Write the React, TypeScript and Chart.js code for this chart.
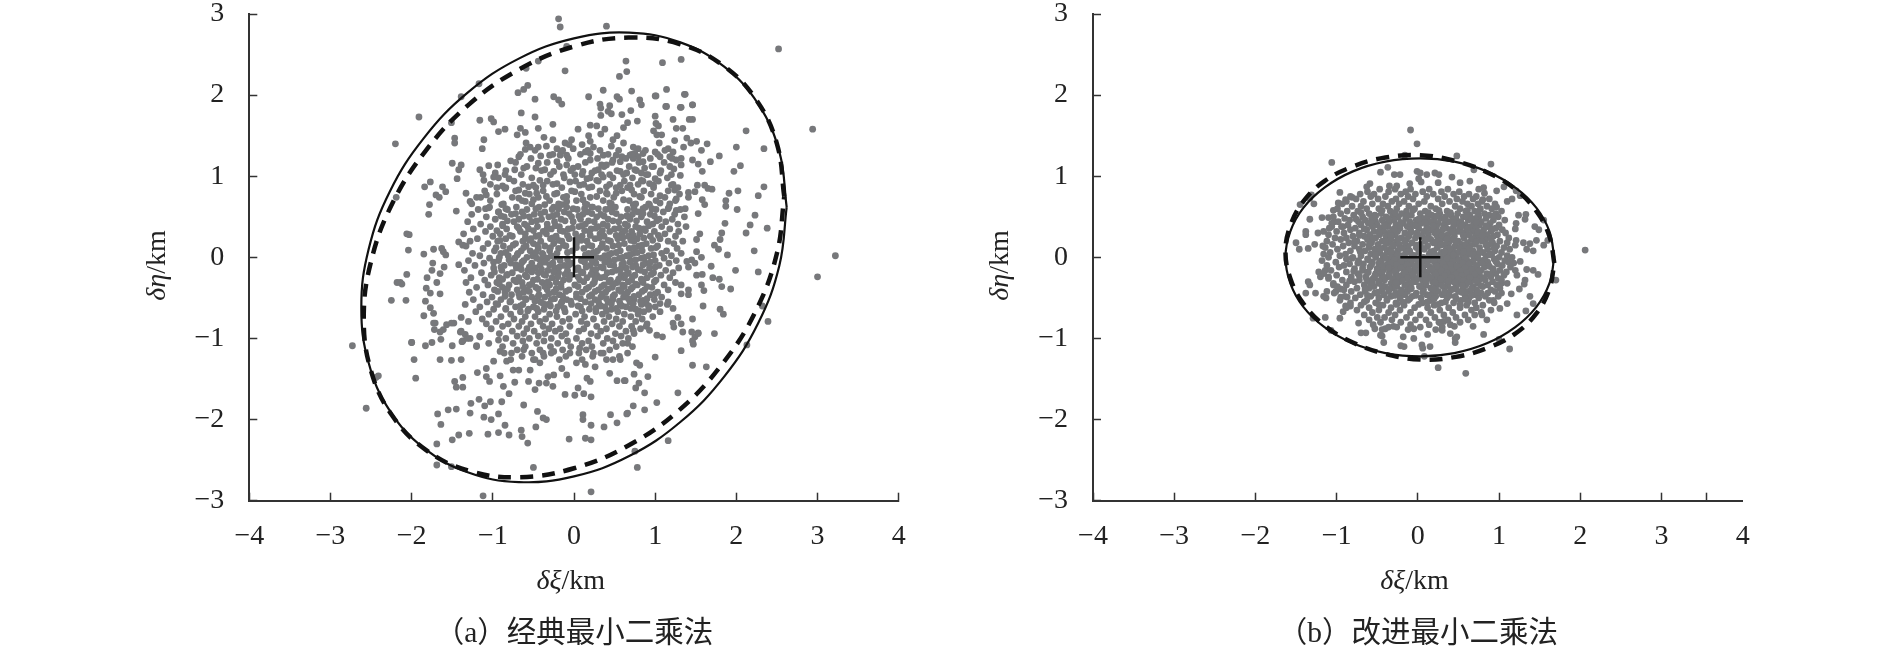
import React, { useEffect, useRef } from "react";
import { Chart, registerables } from "chart.js";

Chart.register(...registerables);

const xTickValues = [-4, -3, -2, -1, 0, 1, 2, 3, 4];
const extraTickB = 3.55;

// All values below are hundredths of a km.
const crossA = [0, 0];
const crossB = [3, 0];

const solidA = [262,62,253,130,227,189,185,235,131,265,68,277,0,270,-68,245,-131,203,-185,147,-227,81,-253,10,-262,-62,-253,-130,-227,-189,-185,-235,-131,-265,-68,-277,0,-270,68,-245,131,-203,185,-147,227,-81,253,-10,262,62];
const dashA = [259,75,250,140,224,195,183,237,130,263,67,271,0,260,-67,232,-130,188,-183,131,-224,66,-250,-5,-259,-75,-250,-140,-224,-195,-183,-237,-130,-263,-67,-271,0,-260,67,-232,130,-188,183,-131,224,-66,250,5,259,75];
const solidB = [168,0,162,32,146,61,120,86,85,106,45,118,3,122,-40,118,-80,106,-115,86,-141,61,-157,32,-163,0,-157,-32,-141,-61,-115,-86,-80,-106,-40,-118,3,-122,45,-118,85,-106,120,-86,146,-61,162,-32,168,0];
const dashB = [168,-7,162,26,146,57,120,84,85,105,45,119,3,126,-40,123,-80,112,-115,94,-141,69,-157,39,-163,7,-157,-26,-141,-57,-115,-84,-80,-105,-40,-119,3,-126,45,-123,85,-112,120,-94,146,-69,162,-39,168,-7];

const scatterA = [-19,294,-17,284,40,285,-9,260,-11,230,-44,242,-59,233,-117,214,-139,198,-191,173,-220,140,-151,166,64,242,65,229,56,223,36,206,18,198,-25,198,-19,194,-15,189,-48,195,-57,212,-62,207,-69,203,
-116,169,-102,171,-99,167,-65,178,-48,173,32,189,33,184,44,187,42,180,46,177,33,175,59,176,70,181,53,198,56,195,81,194,83,188,100,199,113,186,131,185,146,188,136,201,100,174,122,170,146,170,78,168,101,165,66,166,61,160,104,162,126,159,134,159,212,156,
-26,164,-44,159,-66,159,-60,154,-70,151,-85,158,-93,155,-111,145,-113,134,-147,147,-147,141,5,158,20,163,28,162,38,158,33,152,18,150,53,150,48,145,46,137,61,141,98,156,102,151,108,151,105,141,124,144,139,147,144,141,151,143,164,140,135,136,157,132,179,125,146,120,153,115,168,118,158,106,200,136,234,134,205,113,197,106,123,109,131,101,202,82,191,79,187,70,187,63,201,59,227,76,234,87,223,52,152,89,161,89,165,85,170,84,149,81,141,80,141,74,120,89,124,83,158,71,161,65,153,54,126,72,106,76,98,89,
-150,116,-139,114,-142,108,-144,97,-184,87,-177,93,-162,87,-158,81,-170,77,-166,74,-178,65,-133,79,-128,69,-115,74,-108,77,-219,74,-179,53,-145,57,-109,60,-105,61,-93,56,-89,65,
-59,141,-60,133,-54,136,-44,136,-34,137,-37,148,-26,145,-11,141,-3,145,-6,139,-21,134,-16,130,-1,134,-30,126,-41,125,-17,126,-9,126,10,139,20,143,24,136,32,132,14,130,20,128,36,126,20,120,34,114,40,114,52,126,59,124,48,120,57,118,73,136,79,134,75,128,69,126,79,124,73,122,85,128,100,130,116,134,122,130,118,124,106,124,132,122,126,120,132,114,85,118,98,112,87,110,75,108,83,104,91,102,106,104,100,97,93,91,57,106,65,104,44,102,30,108,22,104,36,99,28,95,11,106,-1,110,-9,114,-21,118,-44,116,-68,124,-78,119,-94,114,-105,113,-116,108,-112,102,-97,104,-85,102,-80,97,-111,95,-99,99,-73,108,-62,110,-47,110,-36,108,-25,106,-13,102,1,102,16,97,-42,95,-50,89,-56,87,-38,89,-21,91,-5,93,7,89,22,87,40,87,57,89,69,89,83,95,-95,86,-88,88,-85,85,-68,83,-60,79,-46,79,-34,75,-21,79,-9,75,1,81,11,71,28,75,40,79,52,79,71,83,81,75,93,65,106,67,116,60,126,58,137,60,-68,73,-60,69,-50,71,-36,65,-25,62,-15,65,-9,69,-1,60,16,65,22,62,30,60,44,67,61,71,73,65,85,60,
-206,29,-203,28,-204,9,-185,4,-173,10,-163,11,-158,3,-161,7,-142,19,-137,15,-174,-7,-175,-16,-165,-20,-160,-12,-142,-9,-206,-21,-214,-31,-212,-33,-218,-31,-181,-25,-169,-31,-182,-38,-177,-44,-165,-45,-183,-54,-207,-53,-225,-53,-177,-62,-173,-69,-185,-72,-171,-81,-172,-89,-165,-92,-157,-83,-148,-81,-139,-74,-200,-105,-183,-109,-175,-105,-164,-101,-150,-109,-140,-92,-134,-95,-128,-100,-137,-103,-116,-97,-120,-109,-130,-79,
155,29,151,22,186,42,217,40,238,36,212,30,182,30,180,22,173,15,178,10,189,3,222,8,151,7,157,0,145,-3,139,-5,141,-12,149,-7,169,-11,199,-16,227,-18,151,-22,158,-21,171,-25,179,-27,182,-36,193,-39,132,-34,141,-40,132,-45,141,-46,157,-34,160,-41,159,-60,180,-64,184,-70,232,-60,239,-79,146,-76,128,-74,132,-82,122,-81,123,-86,134,-92,145,-92,153,-94,149,-98,173,-94,147,-107,102,-96,109,-98,213,-108,89,-85,93,-90,122,-63,106,-57,116,-55,85,-53,89,-57,
252,257,294,158,322,2,300,-24,163,-135,146,-133,132,-115,128,-167,116,-226,78,-259,75,-239,102,-179,87,-188,73,-183,66,-192,91,-147,87,-167,80,-155,76,-161,74,-144,62,-152,100,-123,81,-133,77,-130,146,-103,153,-93,66,-106,73,-90,
109,240,132,244,114,207,101,199,137,201,146,188,132,185,114,186,142,170,71,205,
-273,-109,-244,-148,-241,-146,-256,-186,-200,-105,-197,-126,-195,-149,-165,-126,-151,-127,-139,-126,-147,-153,-145,-160,-137,-148,-137,-160,-119,-142,-108,-137,-108,-147,-104,-153,-91,-146,-73,-154,-87,-159,-80,-168,-56,-153,-48,-163,-43,-155,-34,-155,-26,-159,-11,-169,1,-170,5,-161,12,-168,21,-172,20,-153,16,-149,44,-143,53,-152,63,-152,
-117,-175,-127,-180,-110,-183,-103,-178,-89,-178,-62,-182,-155,-188,-145,-187,-168,-193,-128,-192,-111,-197,-102,-200,-93,-193,-45,-190,-38,-198,-34,-200,11,-194,11,-200,45,-194,65,-193,-164,-206,-85,-207,-47,-209,21,-207,37,-209,53,-204,-150,-225,-142,-219,-129,-217,-106,-218,-93,-216,-80,-219,-65,-213,-64,-221,-57,-229,-6,-224,14,-223,21,-225,-169,-230,-169,-256,-151,-258,-50,-259,-112,-294,21,-289,
-173,-81,-161,-89,-151,-81,-139,-91,-132,-100,-138,-104,-116,-98,-120,-110,-105,-106,-91,-116,-93,-102,-99,-128,-83,-128,-75,-139,-68,-139,-77,-118,-62,-114,-50,-126,-54,-139,-42,-130,-32,-147,-25,-145,-38,-118,-25,-116,-15,-137,-9,-145,-5,-118,3,-130,7,-112,14,-132,26,-135,24,-118,36,-118,48,-126,57,-126];

// Dense middle of the cloud, one row per value of delta eta: [y, x, x, ...]
const coreARows = [
[132,-48,-14,17,55,88,112],
[127,-66,-26,8,42,71,103],
[122,-53,-7,29,64,94,121],
[117,-72,-33,14,47,80,111],
[112,-58,-18,5,37,68,96,118],
[107,-84,-40,-4,26,53,77,107],
[102,-65,-29,10,34,61,89,120],
[98,-93,-52,-12,20,48,72,115],
[94,-74,-33,2,30,62,85,104],
[90,-103,-63,-26,12,44,79,122],
[86,-84,-47,-15,18,52,66,98,128],
[82,-110,-72,-38,-3,32,59,86,116],
[78,-95,-55,-24,9,41,74,95,130],
[74,-120,-76,-44,-13,20,49,83,112],
[70,-103,-64,-30,3,36,68,101,125],
[66,-126,-87,-52,-19,14,46,76,92,118],
[62,-104,-71,-43,-9,23,51,88,117],
[59,-118,-82,-58,-27,4,39,66,101,131],
[56,-93,-64,-36,-12,17,47,79,110],
[53,-126,-77,-49,-21,11,33,72,94,124],
[50,-108,-86,-55,-31,-3,28,58,83,136],
[47,-97,-68,-40,-16,8,42,69,105,121],
[44,-131,-74,-52,-24,-1,25,55,90,113],
[41,-115,-88,-61,-33,14,36,63,97,128],
[38,-103,-70,-45,-18,6,30,76,108,138],
[35,-124,-83,-56,-28,-7,21,50,86,118],
[32,-109,-66,-38,-13,19,44,71,99,129],
[29,-136,-91,-60,-34,2,32,59,81,112],
[26,-100,-76,-47,-22,10,37,67,94,125],
[23,-119,-84,-53,-29,-6,26,54,78,106],
[20,-128,-94,-63,-41,-15,16,45,74,116,134],
[17,-106,-72,-50,-25,3,35,62,89,123],
[14,-133,-87,-59,-36,-10,22,48,80,103],
[11,-112,-79,-44,-19,12,40,68,95,127],
[8,-98,-65,-54,-30,-2,29,57,84,114],
[5,-125,-90,-69,-39,-21,18,46,73,108,132],
[2,-116,-81,-51,-28,24,38,65,92,120],
[-1,-104,-73,-46,-33,15,34,56,83,111],
[-4,-130,-93,-62,-37,-17,9,43,70,100,126],
[-7,-111,-78,-52,-26,-3,27,61,88,117],
[-10,-122,-86,-66,-42,-12,20,49,76,105],
[-13,-99,-71,-48,-24,5,36,64,93,129],
[-16,-135,-89,-57,-32,-8,23,52,82,113],
[-19,-114,-76,-44,-19,11,41,67,98,122],
[-22,-102,-83,-60,-35,-4,28,58,75,107],
[-25,-127,-92,-68,-27,16,33,62,90,118],
[-28,-110,-74,-50,-13,7,45,71,101],
[-31,-133,-95,-64,-39,-22,25,53,85,125],
[-34,-106,-80,-55,-30,1,37,60,78,111],
[-37,-120,-88,-47,-16,18,47,72,96],
[-40,-98,-70,-58,-33,-6,30,55,87,116],
[-43,-129,-85,-62,-25,10,39,66,103],
[-46,-112,-77,-43,-18,22,50,80,94],
[-49,-101,-67,-52,-36,3,33,61,108],
[-52,-124,-90,-59,-28,-9,26,48,74,99],
[-55,-107,-79,-41,-15,14,42,69,88],
[-58,-134,-94,-63,-32,-3,31,57,83,115],
[-61,-116,-72,-50,-20,8,38,64,100],
[-64,-99,-84,-56,-37,19,46,76,92],
[-67,-121,-66,-44,-11,27,54,86,106],
[-70,-105,-78,-30,2,35,62,79],
[-73,-90,-60,-48,-21,13,43,70,97],
[-76,-113,-74,-35,-6,24,52,84],
[-79,-96,-64,-42,-14,9,37,60,76],
[-82,-108,-81,-53,-27,16,47,90],
[-85,-88,-68,-38,-5,28,56,71],
[-88,-102,-58,-31,-17,12,40,82],
[-91,-76,-49,-23,6,33,64],
[-94,-92,-62,-36,-10,21,51,74],
[-97,-70,-44,-15,29,58],
[-100,-84,-55,-28,3,41,67],
[-103,-63,-37,-8,18,48],
[-106,-75,-46,-20,10,36,60],
[-110,-88,-60,-29,-4,22,52,72],
[-114,-70,-42,-14,15,44],
[-118,-86,-52,-28,6,33,66],
[-122,-64,-37,-10,23,56],
[-126,-78,-48,-18,10,40,],
[60,-84,-47,-19,13,44,74,96],
[54,-72,-41,-6,22,52,85],
[51,-90,-62,-26,6,37,65,99],
[45,-82,-46,-11,18,48,77,102],
[39,-88,-58,-23,10,41,66,92],
[36,-68,-33,-2,27,56,80],
[33,-95,-50,-17,13,35,63,88],
[27,-79,-43,-8,20,52,73,104],
[24,-60,-26,4,31,60,86],
[21,-91,-55,-19,9,42,70,97],
[15,-75,-45,-13,18,55,84],
[12,-96,-62,-29,3,33,74,101],
[6,-84,-47,-8,24,52,78],
[3,-70,-38,14,43,69,98],
[0,-92,-58,-24,28,60,87],
[-3,-80,-42,-8,22,50,76],
[-6,-99,-64,-36,13,38,69,94],
[-9,-72,-30,-6,44,59,85],
[-12,-90,-55,-18,15,33,72,100],
[-15,-65,-40,3,27,57,79],
[-18,-98,-52,-25,9,47,87],
[-21,-82,-37,-11,21,64,95],
[-24,-58,-20,5,38,72],
[-27,-88,-45,-6,26,55,83],
[-30,-71,-32,12,43,67,99],
[-33,-92,-52,-16,23,49,76],
[-36,-63,-36,5,34,62,90],
[-39,-82,-44,-22,15,42,70],
[-42,-94,-55,-10,26,58,84],
[-45,-68,-31,3,35,64,100],
[-48,-85,-44,-14,19,48,74],
[-51,-60,-24,8,40,67,90],
[-54,-78,-48,-4,30,56,82],
[-57,-96,-38,-16,21,46,73],
[-60,-66,-29,5,33,59,92],
[-63,-84,-46,-12,27,52,70],
[-66,-57,-22,10,40,80],
];

const scatterB = [-9,157,-1,140,-106,117,-16,126,48,125,90,115,69,108,-37,111,-46,105,-29,102,-22,102,-1,106,3,104,11,102,21,104,26,102,42,99,52,92,64,94,25,92,206,9,170,-28,155,46,160,21,155,15,146,21,138,17,130,18,142,8,134,10,121,21,120,15,144,38,149,34,133,53,132,47,124,52,121,42,120,35,126,76,121,82,106,87,97,82,81,86,75,84,82,79,80,71,116,72,110,69,97,62,126,-5,118,-7,134,-15,142,-16,148,-21,120,-16,122,-22,132,-28,131,-33,125,-39,115,-45,138,-48,142,-57,103,-44,103,-32,110,-57,122,-71,133,-66,101,-63,93,-53,85,-77,79,-71,81,-95,100,-101,113,-113,59,-143,25,-136,15,-110,8,-122,5,-108,6,-112,-5,-100,-18,-98,-21,-109,-17,-110,12,-95,40,-94,46,-100,48,-98,46,-105,68,-85,45,-85,30,-90,-42,-105,-44,-97,-46,-96,-53,-88,-64,-93,-70,-93,-107,-90,-129,-75,-114,-74,-96,-75,-92,-67,-89,-60,-83,-60,-73,-81,-40,-88,-30,-85,-5,-88,28,-81,32,-79,
-145,65,-128,66,-133,73,-131,77,-96,80,-89,71,-81,74,-98,67,-104,58,-133,47,-118,49,-110,49,-103,44,-92,38,-106,38,-138,32,-138,28,-123,30,-116,32,-150,18,-146,10,-135,11,-127,16,-117,14,-59,91,-63,87,-35,88,-26,88,-10,91,1,97,4,93,
-122,-18,-120,-24,-135,-30,-133,-34,-138,-44,-126,-44,-116,-48,-113,-50,-112,-42,-101,-42,-95,-39,-95,-49,-87,-49,-104,-34,-110,-24,-114,-16];

const coreBRows = [
[84,-47,-28,-9,14,37],
[81,-62,-36,-15,6,29,51],
[78,-71,-54,-21,-3,19,44,63],
[75,-83,-58,-40,-12,11,33,57,72],
[72,-76,-49,-27,-6,25,48,68,88],
[69,-88,-67,-32,-17,8,39,55,79],
[66,-93,-56,-43,-23,1,30,61,74,95],
[63,-81,-70,-37,-11,16,46,66,85],
[60,-99,-63,-48,-26,-4,22,52,77,91],
[57,-87,-74,-34,-14,9,36,59,70,103],
[54,-95,-60,-45,-20,3,27,49,82,96],
[52,-79,-53,-31,-8,17,41,64,88],
[50,-104,-68,-39,-24,12,34,56,75,99],
[48,-90,-57,-15,6,28,47,71,84],
[46,-84,-65,-44,-29,-2,20,43,62,93,107],
[44,-98,-73,-52,-35,-10,15,38,53,78],
[42,-106,-61,-41,-18,4,25,48,69,89],
[40,-86,-70,-50,-27,-6,32,58,76,100],
[38,-94,-56,-37,-13,11,23,44,65,86],
[36,-109,-77,-46,-22,1,35,52,72,96],
[34,-83,-63,-31,-9,18,40,60,81,104],
[32,-100,-54,-42,-25,7,29,49,68,90],
[30,-91,-72,-35,-16,-1,21,55,77,108],
[28,-110,-59,-47,-28,13,37,63,85,98],
[26,-80,-66,-39,-11,5,24,45,71,93],
[24,-102,-88,-52,-20,-3,31,57,74,112],
[22,-95,-62,-33,-14,16,42,66,83],
[20,-112,-75,-44,-26,9,27,50,79,101],
[18,-85,-57,-37,-7,19,38,61,92,110],
[16,-105,-68,-49,-23,3,33,54,70,88],
[14,-92,-78,-30,-12,12,46,64,97],
[12,-114,-60,-41,-18,-2,24,52,76,106],
[10,-99,-72,-53,-34,8,35,58,86,113],
[8,-83,-65,-25,-10,20,43,68,95],
[6,-108,-47,-38,-15,1,29,49,80,103],
[4,-116,-89,-58,-28,14,37,62,74,91],
[2,-96,-70,-43,-21,-5,23,55,84,110],
[0,-110,-80,-52,-33,7,31,47,69,100,116],
[-2,-88,-62,-24,-11,18,40,60,94],
[-4,-118,-73,-45,-16,3,26,51,77,107],
[-6,-101,-56,-36,-28,11,35,66,86,112],
[-8,-84,-67,-48,-8,22,44,58,98],
[-10,-112,-91,-40,-20,0,29,53,73,104],
[-12,-97,-59,-30,-13,15,38,64,82,114],
[-14,-78,-50,-25,5,24,47,70,92],
[-16,-107,-68,-43,-17,-4,33,56,78,101],
[-18,-88,-61,-35,9,20,42,62,109],
[-20,-116,-74,-52,-27,-10,26,50,85,96],
[-22,-100,-45,-19,2,31,67,76,106],
[-24,-82,-64,-37,-7,14,39,57,90],
[-26,-110,-55,-29,-14,23,48,71,99],
[-28,-93,-72,-41,6,34,60,83,103],
[-30,-78,-60,-23,-3,18,44,65,92],
[-32,-104,-48,-33,-11,28,52,74,110],
[-34,-88,-66,-16,10,37,59,86,97],
[-36,-99,-54,-40,-26,2,22,47,68,80],
[-38,-75,-60,-31,-8,16,33,56,101],
[-40,-91,-44,-20,7,41,72,90],
[-42,-82,-65,-36,-13,25,50,62,95],
[-44,-103,-53,-27,-2,18,37,78,86],
[-46,-71,-42,-16,11,30,58,70],
[-48,-90,-58,-33,-7,22,46,83,99],
[-50,-77,-48,-22,4,36,63,75],
[-53,-96,-63,-38,-12,15,53,88],
[-56,-83,-52,-27,6,29,44,70,94],
[-59,-70,-43,-17,20,60,80],
[-62,-88,-60,-33,-4,12,38,52,72],
[-65,-75,-48,-22,27,66,90],
[-68,-56,-36,-9,16,43,78],
[-71,-66,-28,3,32,58,70],
[-74,-50,-41,-14,21,47],
[-77,-60,-32,-3,10,37,62],
[-80,-46,-21,26,52],
[-83,-55,-9,14,40],
[-86,-36,-26,3,30],
[-89,-44,-12,22],
[58,-44,-6,26,61],
[55,-70,-28,13,40,74],
[51,-52,-14,23,60,93],
[47,-76,-36,1,33,66],
[43,-58,-21,9,44,72],
[39,-41,-3,19,54,84],
[35,-66,-29,12,31,61,92],
[31,-48,-8,24,43,74],
[27,-72,-33,1,30,56,79],
[23,-55,-24,11,36,68,90],
[19,-78,-40,-16,22,47,72],
[15,-60,-31,-1,28,59,84],
[11,-46,-22,6,40,63,94],
[7,-71,-33,-12,16,33,56,76],
[3,-52,-25,-7,21,44,68,88],
[-1,-81,-40,-15,5,36,58,74],
[-3,-61,-29,-2,14,28,50,82],
[-5,-47,-21,-9,20,43,68,96],
[-7,-74,-33,4,31,55,79],
[-9,-57,-26,-13,12,40,63],
[-11,-44,-4,23,48,72,88],
[-13,-68,-36,-21,6,34,58],
[-15,-50,-11,17,41,66,93],
[-17,-79,-28,1,29,52,75],
[-19,-62,-44,-16,12,36,60],
[-21,-35,-6,22,47,70,89],
[-23,-72,-53,-24,9,33,54],
[-25,-42,-13,16,41,64,82],
[-27,-63,-31,-1,28,50,76],
[-29,-84,-48,-19,10,38,56,72],
[-31,-56,-27,-7,21,46,62],
[-35,-44,-14,3,30,55,78],
[-39,-65,-35,-9,19,44,66],
[-43,-49,-21,6,33,54,74],
[-47,-62,-29,-3,15,39,66],
[-51,-38,-10,20,47,58],
[-55,-66,-19,12,34,62],
[-58,-48,-26,1,25,52],
];

const POINT_COLOR = "#77787b";
const LINE_COLOR = "#111111";
const AXIS_COLOR = "#333333";
const TEXT_COLOR = "#222222";
const SERIF = '"Liberation Serif", "Noto Sans CJK SC", serif';

type Pt = { x: number; y: number };
const fromPairs = (flat: number[]): Pt[] => {
  const out: Pt[] = [];
  for (let i = 0; i + 1 < flat.length; i += 2) out.push({ x: flat[i] / 100, y: flat[i + 1] / 100 });
  return out;
};
const fromRows = (rows: number[][]): Pt[] =>
  rows.flatMap(([y, ...xs]) => xs.map((x) => ({ x: x / 100, y: y / 100 })));

const formatTick = (v: number | string) =>
  Number.isInteger(Number(v)) ? String(v).replace("-", "\u2212") : "";

function drawRuns(
  ctx: CanvasRenderingContext2D,
  runs: { text: string; italic: boolean }[],
  cx: number,
  cy: number,
  size: number
) {
  const fontOf = (italic: boolean) => `${italic ? "italic " : ""}${size}px ${SERIF}`;
  let total = 0;
  for (const r of runs) {
    ctx.font = fontOf(r.italic);
    total += ctx.measureText(r.text).width;
  }
  let x = cx - total / 2;
  ctx.textAlign = "left";
  ctx.textBaseline = "middle";
  ctx.fillStyle = TEXT_COLOR;
  for (const r of runs) {
    ctx.font = fontOf(r.italic);
    ctx.fillText(r.text, x, cy);
    x += ctx.measureText(r.text).width;
  }
}

const axisTitles = {
  id: "axisTitles",
  afterDraw(chart: any) {
    const { ctx, scales } = chart;
    const { x, y } = scales;
    ctx.save();
    drawRuns(ctx, [{ text: "\u03b4\u03be", italic: true }, { text: "/km", italic: false }], x.getPixelForValue(-0.04), y.bottom + 81, 28);
    ctx.translate(y.left + 30, y.getPixelForValue(-0.1));
    ctx.rotate(-Math.PI / 2);
    drawRuns(ctx, [{ text: "\u03b4\u03b7", italic: true }, { text: "/km", italic: false }], 0, 0, 28);
    ctx.restore();
  },
};

type PanelProps = {
  left: number;
  yWidth: number;
  rightPad: number;
  caption: string;
  pairs: number[];
  rows: number[][];
  solid: number[];
  dash: number[];
  cross: number[];
  extraTick?: number;
  hideLastTick?: boolean;
};

function Panel(p: PanelProps) {
  const ref = useRef<HTMLCanvasElement>(null);
  useEffect(() => {
    const axisBase = (hideLast: boolean) => ({
      drawOnChartArea: false,
      tickLength: -8,
      tickWidth: 1.5,
      tickColor: (c: any) => (hideLast && c.tick && c.tick.value === 4 ? "rgba(0,0,0,0)" : AXIS_COLOR),
      color: AXIS_COLOR,
    });
    const tickFont = { family: SERIF, size: 28, lineHeight: 1 };
    const chart = new Chart(ref.current as HTMLCanvasElement, {
      type: "scatter",
      data: {
        datasets: [
          {
            data: fromPairs(p.cross),
            pointStyle: "cross",
            pointRadius: 20,
            pointBorderWidth: 2.5,
            pointBorderColor: LINE_COLOR,
            order: 0,
          },
          {
            data: fromPairs(p.solid),
            showLine: true,
            borderColor: LINE_COLOR,
            borderWidth: 2.2,
            tension: 0.4,
            pointRadius: 0,
            order: 1,
          },
          {
            data: fromPairs(p.dash),
            showLine: true,
            borderColor: LINE_COLOR,
            borderWidth: 4.5,
            borderDash: [13, 9],
            tension: 0.4,
            pointRadius: 0,
            order: 2,
          },
          {
            data: [...fromPairs(p.pairs), ...fromRows(p.rows)],
            pointRadius: 3.4,
            pointBorderWidth: 0,
            pointBackgroundColor: POINT_COLOR,
            order: 3,
          },
        ],
      } as any,
      options: {
        responsive: false,
        animation: false,
        events: [],
        layout: { autoPadding: false, padding: { top: 14, right: p.rightPad, left: 0, bottom: 0 } },
        plugins: {
          legend: { display: false },
          tooltip: { enabled: false },
          title: {
            display: true,
            fullSize: false,
            position: "bottom",
            text: p.caption,
            color: TEXT_COLOR,
            padding: 0,
            font: { family: SERIF, size: 29.5, weight: "normal" },
          },
        },
        scales: {
          x: {
            type: "linear",
            min: -4,
            max: 4,
            grid: axisBase(!!p.hideLastTick),
            border: { color: AXIS_COLOR, width: 2 },
            ticks: {
              stepSize: 1,
              autoSkip: false,
              maxRotation: 0,
              padding: 29.5,
              color: TEXT_COLOR,
              font: tickFont,
              callback: formatTick,
            },
            afterBuildTicks(s: any) {
              s.ticks = xTickValues.map((value) => ({ value }));
              if (p.extraTick !== undefined) s.ticks.splice(s.ticks.length - 1, 0, { value: p.extraTick });
            },
            afterFit(s: any) {
              s.height = 115.9;
              s.paddingLeft = 0;
              s.paddingRight = 0;
            },
          },
          y: {
            type: "linear",
            min: -3,
            max: 3,
            grid: axisBase(false),
            border: { color: AXIS_COLOR, width: 2 },
            ticks: {
              stepSize: 1,
              autoSkip: false,
              padding: 33,
              color: TEXT_COLOR,
              font: tickFont,
              callback: formatTick,
            },
            afterFit(s: any) {
              s.width = p.yWidth;
              s.paddingTop = 0;
              s.paddingBottom = 0;
            },
          },
        },
      } as any,
      plugins: [axisTitles as any],
    });
    return () => chart.destroy();
  }, []);
  return (
    <canvas
      ref={ref}
      width={900}
      height={652}
      style={{ position: "absolute", left: p.left, top: 0, width: 900, height: 652 }}
    />
  );
}

export default function App() {
  return (
    <div style={{ position: "fixed", left: 0, top: 0, width: 1890, height: 648, background: "#fff", overflow: "hidden" }}>
      <Panel left={128} yWidth={121.3} rightPad={129.3} caption={"\uff08a\uff09\u7ecf\u5178\u6700\u5c0f\u4e8c\u4e58\u6cd5"} pairs={scatterA} rows={coreARows} solid={solidA} dash={dashA} cross={crossA} />
      <Panel left={971} yWidth={122} rightPad={128.3} caption={"\uff08b\uff09\u6539\u8fdb\u6700\u5c0f\u4e8c\u4e58\u6cd5"} pairs={scatterB} rows={coreBRows} solid={solidB} dash={dashB} cross={crossB} extraTick={extraTickB} hideLastTick />
    </div>
  );
}
